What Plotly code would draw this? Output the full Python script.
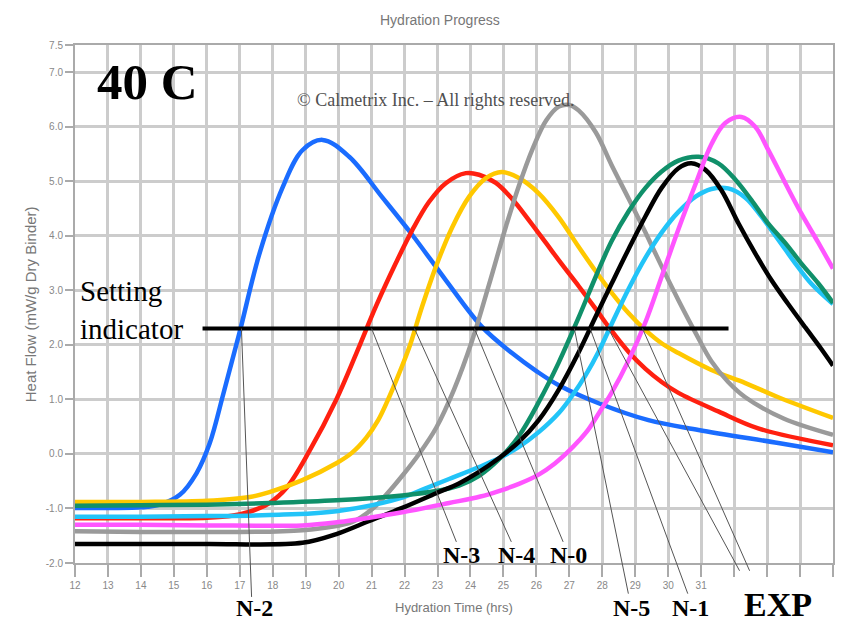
import plotly.graph_objects as go

# ---- hydration curves: time (hrs) and heat flow (mW/g) ----
n2_t = [12, 13, 14, 14.57, 15.18, 15.69, 16.09, 16.50, 16.99, 17.60, 18.30, 18.90, 19.51,
        20.32, 21.32, 22.23, 23.26, 24.35, 25.26, 26.00, 26.68, 27.89, 29.40, 30.92, 33.34, 35]
n2_q = [-0.99, -0.99, -0.98, -0.93, -0.75, -0.35, 0.20, 1.10, 2.22, 3.68, 4.89, 5.57, 5.76,
        5.45, 4.71, 4.02, 3.18, 2.33, 1.85, 1.52, 1.26, 0.93, 0.62, 0.44, 0.20, 0.03]

n3_t = [12, 14, 16, 16.8, 17.30, 17.90, 18.42, 19.11, 19.93, 20.54, 21.14, 21.75, 22.23, 22.74,
        23.26, 23.86, 24.26, 24.77, 25.26, 25.77, 26.29, 26.77, 27.28, 27.80, 28.28, 28.80,
        29.31, 29.80, 30.31, 31.52, 32.73, 35]
n3_q = [-1.18, -1.18, -1.17, -1.13, -1.06, -0.90, -0.62, 0.05, 1.00, 1.85, 2.72, 3.52, 4.10, 4.62,
        4.97, 5.15, 5.12, 4.97, 4.68, 4.29, 3.87, 3.48, 3.08, 2.66, 2.26, 1.87,
        1.56, 1.32, 1.12, 0.78, 0.47, 0.16]

n4_t = [12, 14, 16, 17.30, 17.90, 18.90, 19.93, 20.40, 20.84, 21.20, 21.53, 21.85, 22.14, 22.53,
        22.96, 23.44, 23.96, 24.47, 24.95, 25.47, 26.07, 26.68, 27.28, 27.80, 28.28, 28.80,
        29.31, 29.80, 30.31, 31.31, 32.34, 33.34, 35]
n4_q = [-0.88, -0.88, -0.86, -0.79, -0.70, -0.48, -0.17, 0.02, 0.30, 0.62, 1.04, 1.50, 1.95, 2.70,
        3.45, 4.15, 4.72, 5.06, 5.17, 5.06, 4.78, 4.34, 3.80, 3.35, 2.96, 2.58,
        2.27, 2.03, 1.85, 1.54, 1.30, 1.04, 0.66]

n0_t = [12, 14, 16, 18.90, 20.40, 21.00, 21.44, 21.93, 22.44, 22.96, 23.50, 24.05, 24.56, 25.08,
        25.47, 25.90, 26.30, 26.68, 27.00, 27.28, 27.80, 28.28, 28.80, 29.31, 29.80, 30.31,
        30.83, 31.31, 31.82, 32.34, 33.50, 35]
n0_q = [-1.42, -1.43, -1.43, -1.40, -1.25, -1.02, -0.75, -0.40, 0.00, 0.48, 1.18, 2.08, 3.10, 4.18,
        4.92, 5.62, 6.12, 6.37, 6.40, 6.30, 5.90, 5.30, 4.68, 4.06, 3.44, 2.82,
        2.22, 1.70, 1.32, 1.04, 0.65, 0.35]

n1_t = [12, 14, 16, 18.90, 19.93, 20.93, 21.93, 22.96, 23.65, 24.26, 24.86, 25.47, 26.07,
        26.68, 27.28, 27.80, 28.28, 28.80, 29.31, 29.80, 30.31, 30.70, 31.13, 31.61, 32.13,
        32.64, 33.13, 33.64, 34.16, 34.64, 35]
n1_q = [-1.65, -1.65, -1.65, -1.63, -1.47, -1.23, -0.99, -0.72, -0.54, -0.33, -0.08, 0.22, 0.62,
        1.18, 1.86, 2.52, 3.12, 3.76, 4.36, 4.88, 5.24, 5.33, 5.21, 4.84, 4.23,
        3.68, 3.19, 2.75, 2.32, 1.93, 1.62]

n5_t = [12, 14, 16, 17.90, 19.93, 21.93, 22.96, 23.65, 24.26, 24.86, 25.47, 26.07, 26.68,
        27.28, 27.80, 28.28, 28.80, 29.31, 29.80, 30.31, 30.92, 31.52, 32.04, 32.52, 33.03,
        33.55, 34.03, 34.55, 35]
n5_q = [-0.95, -0.94, -0.93, -0.90, -0.85, -0.76, -0.68, -0.58, -0.40, -0.10, 0.33, 0.95, 1.68,
        2.50, 3.25, 3.90, 4.45, 4.88, 5.18, 5.38, 5.45, 5.33, 5.03, 4.66, 4.23,
        3.87, 3.50, 3.13, 2.77]

exp_a_t = [12, 14, 16, 17.90, 19.93, 21.93, 22.60, 23.35, 24.26, 24.86, 25.47, 26.07, 26.68,
           27.10, 27.49, 27.89, 28.28, 28.80, 29.31, 29.80, 30.31, 30.83, 31.31, 31.82, 32.34,
           32.82, 33.34, 33.85, 34.33, 35]
exp_a_q = [-1.15, -1.15, -1.14, -1.12, -1.05, -0.80, -0.64, -0.46, -0.24, -0.08, 0.13, 0.40, 0.75,
           1.08, 1.44, 1.88, 2.38, 3.03, 3.60, 4.06, 4.44, 4.72, 4.86, 4.87, 4.70,
           4.36, 3.93, 3.50, 3.13, 2.75]

exp_b_t = [12, 14, 16, 18.90, 20.00, 20.93, 21.93, 23.35, 24.30, 24.86, 25.47, 26.07, 26.55,
           26.98, 27.30, 27.58, 27.90, 28.28, 28.80, 29.31, 29.80, 30.31, 30.83, 31.31, 31.73,
           32.22, 32.64, 33.03, 33.55, 34.03, 34.55, 35]
exp_b_q = [-1.30, -1.30, -1.31, -1.31, -1.25, -1.17, -1.07, -0.90, -0.78, -0.68, -0.55, -0.38, -0.18,
           0.05, 0.25, 0.45, 0.75, 1.12, 1.72, 2.42, 3.25, 4.12, 4.95, 5.68, 6.07,
           6.18, 6.00, 5.58, 4.97, 4.42, 3.88, 3.40]

# setting indicator level and extent
setting_t = [15.87, 31.83]
setting_q = [2.3, 2.3]

# leader lines: start time on the setting level, end point (time, heat flow)
leader_start_t = [17.05, 21.0, 22.3, 24.12, 27.15, 27.63, 28.18, 29.22]
leader_end_t = [17.36, 23.59, 25.26, 26.83, 28.80, 30.61, 32.19, 32.49]
leader_end_q = [-2.65, -1.64, -1.64, -1.64, -2.59, -2.59, -2.17, -2.17]

# mix labels sitting on the plot (data coords) and below it (paper coords)
upper_labels = ["N-3", "N-4", "N-0"]
upper_label_t = [23.74, 25.41, 26.98]
upper_label_q = [-1.86, -1.86, -1.86]
lower_labels = ["N-2", "N-5", "N-1", "EXP"]
lower_label_x = [0.237, 0.734, 0.812, 0.928]
lower_label_y = [-0.087, -0.087, -0.087, -0.081]

x_ticks = list(range(12, 36))
x_ticktext = [str(v) if v <= 31 else "" for v in x_ticks]
y_ticks = [-2, -1, 0, 1, 2, 3, 4, 5, 6, 7, 7.5]
y_ticktext = ["-2.0", "-1.0", "0.0", "1.0", "2.0", "3.0", "4.0", "5.0", "6.0", "7.0", "7.5"]

series = [
    ("N-2", n2_t, n2_q, "#1a6cff"),
    ("N-3", n3_t, n3_q, "#ff2010"),
    ("N-4", n4_t, n4_q, "#ffc800"),
    ("N-0", n0_t, n0_q, "#9a9a9a"),
    ("EXP-a", exp_a_t, exp_a_q, "#22c4f8"),
    ("N-5", n5_t, n5_q, "#10906a"),
    ("N-1", n1_t, n1_q, "#000000"),
    ("EXP-b", exp_b_t, exp_b_q, "#ff55ff"),
]

fig = go.Figure()
for name, t, q, color in series:
    fig.add_trace(go.Scatter(x=t, y=q, mode="lines", name=name,
                             line=dict(color=color, width=4.5, shape="spline", smoothing=1.0),
                             hoverinfo="skip"))

fig.add_trace(go.Scatter(x=setting_t, y=setting_q, mode="lines", name="setting",
                         line=dict(color="#000000", width=4), hoverinfo="skip"))

serif = "Liberation Serif, Times New Roman, serif"
sans = "Liberation Sans, Arial, sans-serif"

annotations = []
for s, et, eq in zip(leader_start_t, leader_end_t, leader_end_q):
    annotations.append(dict(x=s, y=setting_q[0], xref="x", yref="y",
                            ax=et, ay=eq, axref="x", ayref="y",
                            text="", showarrow=True, arrowhead=0,
                            arrowwidth=1, arrowcolor="#555555", standoff=0))
for txt, t, q in zip(upper_labels, upper_label_t, upper_label_q):
    annotations.append(dict(x=t, y=q, xref="x", yref="y", text="<b>%s</b>" % txt,
                            showarrow=False, xanchor="center", yanchor="middle",
                            font=dict(family=serif, size=24, color="#000000")))
for txt, px, py in zip(lower_labels, lower_label_x, lower_label_y):
    annotations.append(dict(x=px, y=py, xref="paper", yref="paper", text="<b>%s</b>" % txt,
                            showarrow=False, xanchor="center", yanchor="middle",
                            font=dict(family=serif, size=34 if txt == "EXP" else 24,
                                      color="#000000")))

annotations += [
    dict(x=0.482, y=1.048, xref="paper", yref="paper", text="Hydration Progress",
         showarrow=False, yanchor="middle", font=dict(family=sans, size=14, color="#777777")),
    dict(x=0.026, y=0.929, xref="paper", yref="paper", text="<b>40 C</b>",
         showarrow=False, xanchor="left", yanchor="middle",
         font=dict(family=serif, size=51, color="#000000")),
    dict(x=0.476, y=0.894, xref="paper", yref="paper",
         text="© Calmetrix Inc. – All rights reserved.",
         showarrow=False, yanchor="middle", font=dict(family=serif, size=18, color="#505050")),
    dict(x=0.004, y=0.488, xref="paper", yref="paper", text="Setting<br>indicator",
         showarrow=False, xanchor="left", yanchor="middle", align="left",
         font=dict(family=serif, size=29, color="#000000")),
    dict(x=0.5, y=-0.085, xref="paper", yref="paper", text="Hydration Time (hrs)",
         showarrow=False, yanchor="middle", font=dict(family=sans, size=13, color="#777777")),
    dict(x=-0.059, y=0.5, xref="paper", yref="paper", text="Heat Flow (mW/g Dry Binder)",
         showarrow=False, textangle=-90, xanchor="center", yanchor="middle",
         font=dict(family=sans, size=15, color="#777777")),
]

fig.update_layout(
    width=842, height=622, autosize=False,
    margin=dict(l=75, r=7, t=45, b=59),
    paper_bgcolor="white", plot_bgcolor="white",
    showlegend=False,
    annotations=annotations,
    xaxis=dict(range=[12, 35], tickmode="array", tickvals=x_ticks, ticktext=x_ticktext,
               showgrid=True, gridcolor="#cccccc", gridwidth=2.5,
               showline=True, linecolor="#aaaaaa", linewidth=2, mirror=True,
               ticks="outside", ticklen=12, tickcolor="#aaaaaa", tickwidth=2,
               tickfont=dict(family=sans, size=10, color="#888888"), zeroline=False),
    yaxis=dict(range=[-2, 7.5], tickmode="array", tickvals=y_ticks, ticktext=y_ticktext,
               showgrid=True, gridcolor="#cccccc", gridwidth=2.5,
               showline=True, linecolor="#aaaaaa", linewidth=2, mirror=True,
               ticks="outside", ticklen=8, tickcolor="#aaaaaa", tickwidth=2,
               tickfont=dict(family=sans, size=10, color="#888888"), zeroline=False),
)

fig.write_html("out.html")
